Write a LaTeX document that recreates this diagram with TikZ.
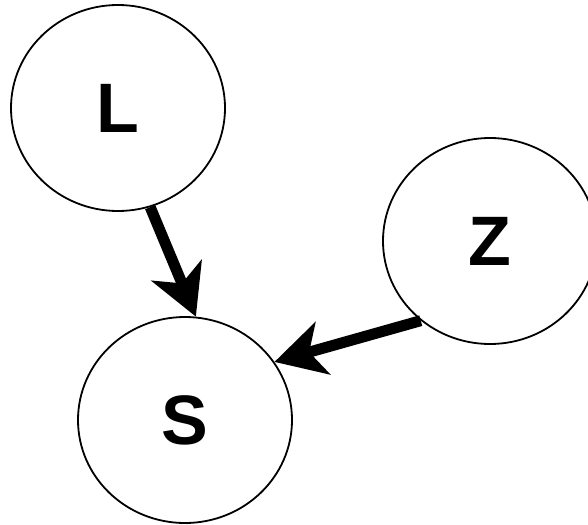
\documentclass[tikz,border=0pt]{standalone}
\usepackage{fontspec}
\setmainfont{Liberation Sans}
\usetikzlibrary{arrows.meta,shapes.geometric}
\tikzset{
  bnno/.style={draw=black, ellipse, line width=1.8pt, minimum width=214pt, minimum height=206pt,
               inner sep=0pt, font=\fontsize{70}{84}\selectfont\bfseries},
  bnseta/.style={-{Stealth[length=50pt, width=54pt, inset=14pt]}, line width=11pt},
}
\begin{document}
\begin{tikzpicture}[x=1pt, y=-1pt]
    \useasboundingbox (0,0) rectangle (588,524);
    % nos
    \node[bnno] (L) at (118,108) {L};
    \node[bnno] (Z) at (490,241) {Z};
    \node[bnno] (S) at (185,420) {S};
    % setas
    \draw[bnseta] (L.-72) -- (S.84);
    \draw[bnseta] (Z.229) -- (S.33);
\end{tikzpicture}
\end{document}
